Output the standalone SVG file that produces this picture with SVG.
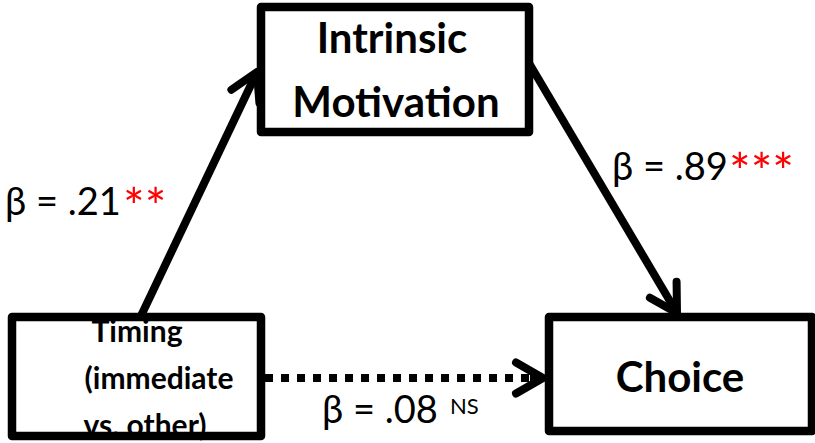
<svg xmlns="http://www.w3.org/2000/svg" width="815" height="443" viewBox="0 0 815 443">
<style>
.box{fill:#fff;stroke:#000;stroke-width:8.5;stroke-linejoin:round}
.title{font-family:Lato,"Open Sans","Liberation Sans",sans-serif;font-weight:bold;fill:#000;text-anchor:middle}
.lbl{font-family:Lato,"Open Sans","Liberation Sans",sans-serif;font-size:38px;fill:#000}
.star{fill:#ff0000;font-size:51px}
.conn{fill:none;stroke:#000;stroke-width:8}
</style>
<defs>
<marker id="ah" markerUnits="userSpaceOnUse" viewBox="-40 -25 50 50" markerWidth="50" markerHeight="50" refX="0" refY="0" orient="auto" overflow="visible">
<path d="M-27,-15.5 L0,0 L-27,15.5" fill="none" stroke="#000" stroke-width="8" stroke-linecap="round" stroke-linejoin="round"/>
</marker>
</defs>
<rect width="815" height="443" fill="#fff"/>
<g id="connectors">
<path class="conn" d="M140,318 L257,72" marker-end="url(#ah)"/>
<path class="conn" d="M526,58 L677,313" marker-end="url(#ah)"/>
<path class="conn" d="M265,378 L538,378" stroke-dasharray="8 8"/>
<path class="conn" d="M530,378 L543,378" stroke="none" marker-end="url(#ah)"/>
</g>
<g id="node-intrinsic">
<rect class="box" x="261" y="7" width="268" height="125"/>
<text class="title" x="392" y="53" font-size="42">Intrinsic</text>
<text class="title" x="396" y="117" font-size="42">Motivation</text>
</g>
<g id="node-timing">
<text class="title" font-size="30"><tspan x="137" y="342">Timing</tspan><tspan x="159" y="389">(immediate</tspan><tspan x="145" y="436">vs. other)</tspan></text>
<rect class="box" x="12" y="317" width="249" height="119" style="fill:none"/>
</g>
<g id="node-choice">
<rect class="box" x="549" y="317" width="263" height="114"/>
<text class="title" x="680" y="392" font-size="42">Choice</text>
</g>
<g id="labels">
<text class="lbl" x="5" y="215">β = .21<tspan class="star" x="123" y="225">**</tspan></text>
<text class="lbl" x="612" y="180">β = .89<tspan class="star" x="729" y="190">***</tspan></text>
<text class="lbl" x="322" y="423">β = .08<tspan x="450" y="414" font-size="22">NS</tspan></text>
</g>
</svg>
